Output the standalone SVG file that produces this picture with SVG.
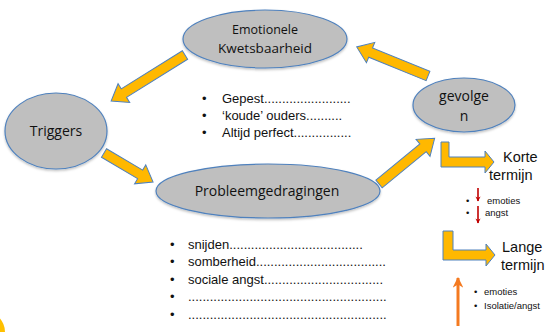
<svg xmlns="http://www.w3.org/2000/svg" width="553" height="332" viewBox="0 0 553 332">
  <defs>
    <style>
      .node { fill: #BFBFBF; stroke: #4F81BD; stroke-width: 1.2; }
      .lbl { font-family: "Open Sans", "Liberation Sans", sans-serif; fill: #111; text-anchor: middle; }
      .blk { fill: #FFB800; stroke: #4F81BD; stroke-width: 1; stroke-linejoin: miter; }
      .txt { font-family: "Liberation Sans", Arial, sans-serif; fill: #111; font-size: 13px; }
      .sm { font-family: "Liberation Sans", Arial, sans-serif; fill: #111; font-size: 9.5px; }
      .term { font-family: "Liberation Sans", Arial, sans-serif; fill: #111; font-size: 14.5px; }
    </style>
    <marker id="redHead" viewBox="0 0 10 10" refX="9" refY="5" markerWidth="3.2" markerHeight="3.2" orient="auto">
      <path d="M0,0 L10,5 L0,10 L3,5 Z" fill="#C00000"/>
    </marker>
    <marker id="orangeHead" viewBox="0 0 10 10" refX="9" refY="5" markerWidth="3.6" markerHeight="3.6" orient="auto">
      <path d="M0,0 L10,5 L0,10 L3,5 Z" fill="#F47A20"/>
    </marker>
    <filter id="shadow" x="-10%" y="-10%" width="120%" height="130%">
      <feDropShadow dx="0" dy="1.5" stdDeviation="1.2" flood-color="#000" flood-opacity="0.25"/>
    </filter>
  </defs>

  <rect width="553" height="332" fill="#FFFFFF"/>

  <!-- yellow disc peeking in at the lower-left edge -->
  <circle cx="-16" cy="332" r="21" fill="#FFC000"/>

  <!-- cycle connectors and term arrows -->
  <g id="connectors">
    <!-- Emotionele Kwetsbaarheid to Triggers -->
    <polygon class="blk" transform="translate(185,55) rotate(148.1)" points="0,-5 72,-5 72,-11 87,0 72,11 72,5 0,5"/>
    <!-- Triggers to Probleemgedragingen -->
    <polygon class="blk" transform="translate(104,153) rotate(30.6)" points="0,-5 42,-5 42,-11 57,0 42,11 42,5 0,5"/>
    <!-- Probleemgedragingen to gevolgen -->
    <polygon class="blk" transform="translate(379,184) rotate(-39.4)" points="0,-5 57,-5 57,-11 72,0 57,11 57,5 0,5"/>
    <!-- gevolgen to Emotionele Kwetsbaarheid -->
    <polygon class="blk" transform="translate(428,76) rotate(202.2)" points="0,-5 62,-5 62,-11 77,0 62,11 62,5 0,5"/>

    <!-- bent arrow: korte termijn -->
    <path class="blk" d="M441,142 L449,142 L449,157 L485,157 L485,151 L494,162 L485,173 L485,167 L441,167 Z"/>
    <!-- bent arrow: lange termijn -->
    <path class="blk" d="M443,231 L453,231 L453,250 L486,250 L486,244 L495,255 L486,266 L486,260 L443,260 Z"/>

    <!-- small red down arrows -->
    <line x1="478" y1="188" x2="478" y2="201" stroke="#C00000" stroke-width="1.6" marker-end="url(#redHead)"/>
    <line x1="478" y1="206" x2="478" y2="223" stroke="#C00000" stroke-width="1.6" marker-end="url(#redHead)"/>

    <!-- orange up arrow -->
    <line x1="458" y1="326" x2="458" y2="278" stroke="#F47A20" stroke-width="3" marker-end="url(#orangeHead)"/>
  </g>

  <g id="emotionele-kwetsbaarheid">
    <ellipse class="node" cx="265" cy="39" rx="82" ry="29" filter="url(#shadow)"/>
    <text class="lbl" x="265" y="34" font-size="12.5">Emotionele</text>
    <text class="lbl" x="265" y="53" font-size="13.5">Kwetsbaarheid</text>
  </g>

  <g id="triggers">
    <ellipse class="node" cx="56" cy="131" rx="51" ry="38" filter="url(#shadow)"/>
    <text class="lbl" x="56" y="136" font-size="14">Triggers</text>
  </g>

  <g id="probleemgedragingen">
    <ellipse class="node" cx="268" cy="191" rx="112" ry="27" filter="url(#shadow)"/>
    <text class="lbl" x="267" y="196" font-size="14">Probleemgedragingen</text>
  </g>

  <g id="gevolgen">
    <ellipse class="node" cx="464" cy="105" rx="51" ry="27" filter="url(#shadow)"/>
    <text class="lbl" x="464" y="101" font-size="14">gevolge</text>
    <text class="lbl" x="464" y="121" font-size="14">n</text>
  </g>

  <!-- triggers list -->
  <g id="trigger-list">
    <text class="txt" x="202" y="103">•</text>
    <text class="txt" x="222" y="103">Gepest........................</text>
    <text class="txt" x="202" y="120">•</text>
    <text class="txt" x="222" y="120">‘koude’ ouders..........</text>
    <text class="txt" x="202" y="137">•</text>
    <text class="txt" x="222" y="137">Altijd perfect................</text>
  </g>

  <!-- behaviour list -->
  <g id="behaviour-list">
    <text class="txt" x="170" y="249">•</text>
    <text class="txt" x="188" y="249">snijden.....................................</text>
    <text class="txt" x="170" y="266">•</text>
    <text class="txt" x="188" y="266">somberheid....................................</text>
    <text class="txt" x="170" y="284">•</text>
    <text class="txt" x="188" y="284">sociale angst.................................</text>
    <text class="txt" x="170" y="301">•</text>
    <text class="txt" x="188" y="301">.......................................................</text>
    <text class="txt" x="170" y="319">•</text>
    <text class="txt" x="188" y="319">.......................................................</text>
  </g>

  <!-- term labels -->
  <g id="korte-termijn">
    <text class="term" x="503" y="162">Korte</text>
    <text class="term" x="489" y="180">termijn</text>
  </g>
  <g id="korte-effects">
    <text class="sm" x="466" y="204">•</text>
    <text class="sm" x="487" y="204">emoties</text>
    <text class="sm" x="466" y="216">•</text>
    <text class="sm" x="485" y="216">angst</text>
  </g>

  <g id="lange-termijn">
    <text class="term" x="502" y="252">Lange</text>
    <text class="term" x="501" y="270">termijn</text>
  </g>
  <g id="lange-effects">
    <text class="sm" x="474" y="295">•</text>
    <text class="sm" x="484" y="295">emoties</text>
    <text class="sm" x="474" y="309">•</text>
    <text class="sm" x="484" y="309">Isolatie/angst</text>
  </g>
</svg>
